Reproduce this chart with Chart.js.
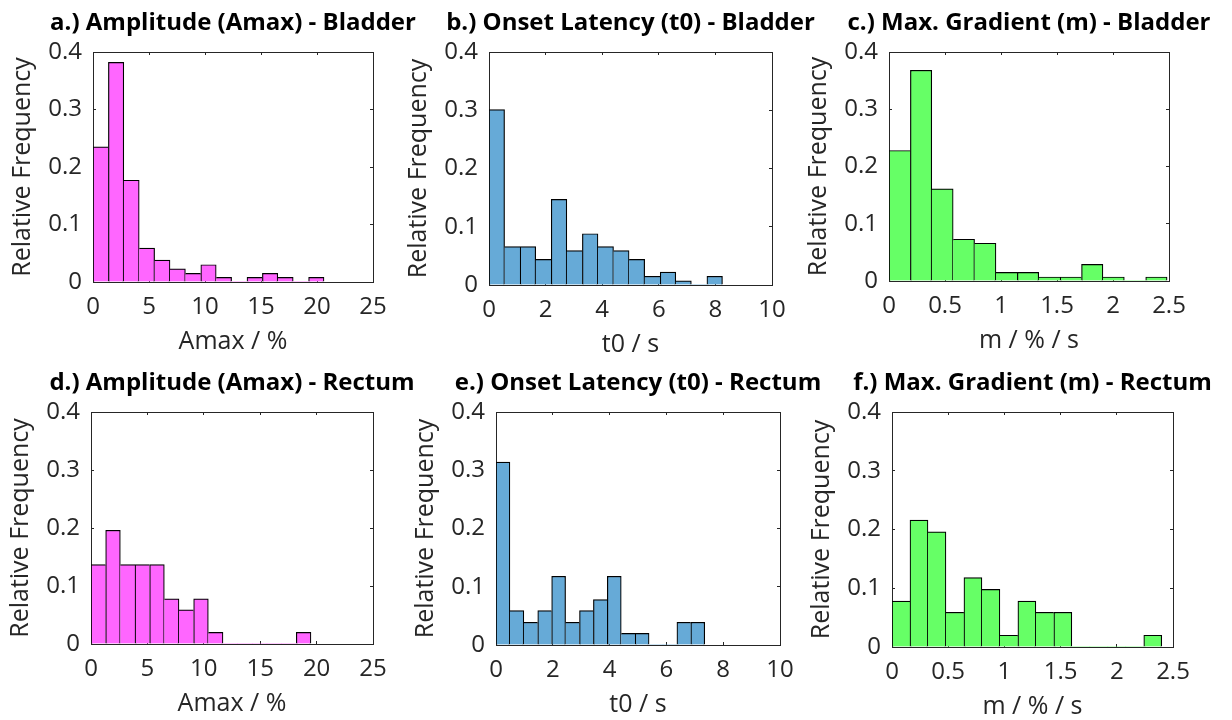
<!DOCTYPE html>
<html><head><meta charset="utf-8">
<script src="https://cdn.jsdelivr.net/npm/chart.js@4"></script>
<style>
html,body{margin:0;padding:0;background:#fff;width:1232px;height:720px;overflow:hidden;position:relative}
canvas{position:absolute}
</style></head><body>
<script>
// ---- data (relative frequency per histogram bin, bins start at 0) ----
const amaxBladder = [0.235,0.382,0.177,0.059,0.038,0.023,0.015,0.030,0.008,0,0.008,0.015,0.008,0,0.008];
const amaxBladderBinWidth = 1.375;
const t0Bladder = [0.301,0.066,0.066,0.044,0.147,0.059,0.088,0.066,0.059,0.044,0.015,0.022,0.007,0,0.015];
const t0BladderBinWidth = 0.55;
const mBladder = [0.228,0.368,0.161,0.073,0.066,0.015,0.015,0.007,0.007,0.029,0.007,0,0.007];
const mBladderBinWidth = 0.191;
const amaxRectum = [0.137,0.196,0.137,0.137,0.137,0.078,0.059,0.078,0.020,0,0,0,0,0,0.020];
const amaxRectumBinWidth = 1.3;
const t0Rectum = [0.314,0.059,0.039,0.059,0.118,0.039,0.059,0.078,0.118,0.020,0.020,0,0,0.039,0.039];
const t0RectumBinWidth = 0.49;
const mRectum = [0.078,0.216,0.196,0.059,0.118,0.098,0.020,0.078,0.059,0.059,0,0,0,0,0.020];
const mRectumBinWidth = 0.16;

const amaxTicks = [0,5,10,15,20,25];
const t0Ticks = [0,2,4,6,8,10];
const mTicks = [0,0.5,1,1.5,2,2.5];
const freqTicks = [0,0.1,0.2,0.3,0.4];

const titles = ['a.) Amplitude (Amax) - Bladder','b.) Onset Latency (t0) - Bladder','c.) Max. Gradient (m) - Bladder',
                'd.) Amplitude (Amax) - Rectum','e.) Onset Latency (t0) - Rectum','f.) Max. Gradient (m) - Rectum'];
const xLabels = ['Amax / %','t0 / s','m / % / s','Amax / %','t0 / s','m / % / s'];
const yLabel = 'Relative Frequency';

// ---- styles / layout ----
const MAGENTA = '#FF66FF', BLUE = '#66AAD7', GREEN = '#66FF66';
const AX = '#262626';
const FONT = '"Open Sans"';
const TICK_SIZE = 24, LABEL_SIZE = 25, TITLE_SIZE = 24;
const panels = [
  {vals: amaxBladder, bin: amaxBladderBinWidth, ticks: amaxTicks, color: MAGENTA, x: 93,  y: 52,  w: 280, h: 230, row: 0},
  {vals: t0Bladder,   bin: t0BladderBinWidth,   ticks: t0Ticks,   color: BLUE,    x: 489, y: 52,  w: 283, h: 233, row: 0},
  {vals: mBladder,    bin: mBladderBinWidth,    ticks: mTicks,    color: GREEN,   x: 889, y: 52,  w: 280, h: 229, row: 0},
  {vals: amaxRectum,  bin: amaxRectumBinWidth,  ticks: amaxTicks, color: MAGENTA, x: 91,  y: 412, w: 282, h: 232, row: 360},
  {vals: t0Rectum,    bin: t0RectumBinWidth,    ticks: t0Ticks,   color: BLUE,    x: 496, y: 412, w: 284, h: 233, row: 360},
  {vals: mRectum,     bin: mRectumBinWidth,     ticks: mTicks,    color: GREEN,   x: 892, y: 412, w: 281, h: 235, row: 360},
];

Chart.defaults.font.family = FONT;
Chart.defaults.color = AX;

function setTicks(arr){ return s => { s.ticks = arr.map(v => ({value: v})); }; }

panels.forEach((p, k) => {
  const SIDE = 100, H = 360;
  const W = p.w + 2 * SIDE;
  const cv = document.createElement('canvas');
  cv.width = W; cv.height = H;
  cv.style.left = (p.x - SIDE) + 'px';
  cv.style.top = p.row + 'px';
  document.body.appendChild(cv);
  const topRel = p.y - p.row;
  const xh = H - (topRel + p.h);
  const xMax = p.ticks[p.ticks.length - 1];
  const vals = p.vals;
  const data = vals.map((v, i) => ({x: (i + 0.5) * p.bin, y: v}));
  const gridOpt = {drawOnChartArea: false, tickLength: -3, color: AX, tickColor: AX, offset: false};
  const borderOpt = {display: true, color: AX, width: 1};
  new Chart(cv, {
    type: 'bar',
    data: {datasets: [{
      data,
      backgroundColor: p.color,
      borderColor: '#000',
      borderSkipped: false,
      barPercentage: 1,
      categoryPercentage: 1,
      borderWidth: ctx => {
        const i = ctx.dataIndex, v = vals[i];
        if (!v) return 0;
        const prev = i > 0 ? vals[i - 1] : 0;
        const next = i < vals.length - 1 ? vals[i + 1] : 0;
        return {top: 1.2, bottom: 0, left: prev <= v ? 1.2 : 0, right: next < v ? 1.2 : 0};
      }
    }]},
    options: {
      responsive: false, animation: false, devicePixelRatio: 1,
      layout: {padding: 0},
      plugins: {
        legend: {display: false}, tooltip: {enabled: false},
        title: {display: true, text: titles[k], color: '#000',
          font: {family: FONT, size: TITLE_SIZE, weight: 'bold', lineHeight: 1},
          padding: {top: 11, bottom: topRel - 11 - TITLE_SIZE}}
      },
      scales: {
        x: {type: 'linear', position: 'bottom', min: 0, max: xMax, offset: false,
          grid: gridOpt, border: borderOpt,
          afterBuildTicks: setTicks(p.ticks),
          afterFit: s => { s.height = xh; },
          ticks: {font: {size: TICK_SIZE}, color: AX, padding: 25 - TICK_SIZE * 0.6 + 3, maxRotation: 0, autoSkip: false, callback: v => String(v)},
          title: {display: true, text: xLabels[k], color: AX, font: {size: LABEL_SIZE},
            padding: {top: 0, bottom: xh - LABEL_SIZE * 0.6 - 60}}},
        x2: {type: 'linear', position: 'top', min: 0, max: xMax, offset: false,
          grid: gridOpt, border: borderOpt,
          afterBuildTicks: setTicks(p.ticks),
          afterFit: s => { s.height = 0; },
          ticks: {display: false}},
        y: {type: 'linear', position: 'left', min: 0, max: 0.4,
          grid: gridOpt, border: borderOpt,
          afterBuildTicks: setTicks(freqTicks),
          afterFit: s => { s.width = SIDE; },
          ticks: {font: {size: TICK_SIZE}, color: AX, padding: 14, callback: v => String(v)},
          title: {display: true, text: yLabel, color: AX, font: {size: LABEL_SIZE},
            padding: {top: 30 - LABEL_SIZE * 0.6, bottom: 0}}},
        y2: {type: 'linear', position: 'right', min: 0, max: 0.4,
          grid: gridOpt, border: borderOpt,
          afterBuildTicks: setTicks(freqTicks),
          afterFit: s => { s.width = SIDE; },
          ticks: {display: false}}
      }
    }
  });
});
</script>
</body></html>
